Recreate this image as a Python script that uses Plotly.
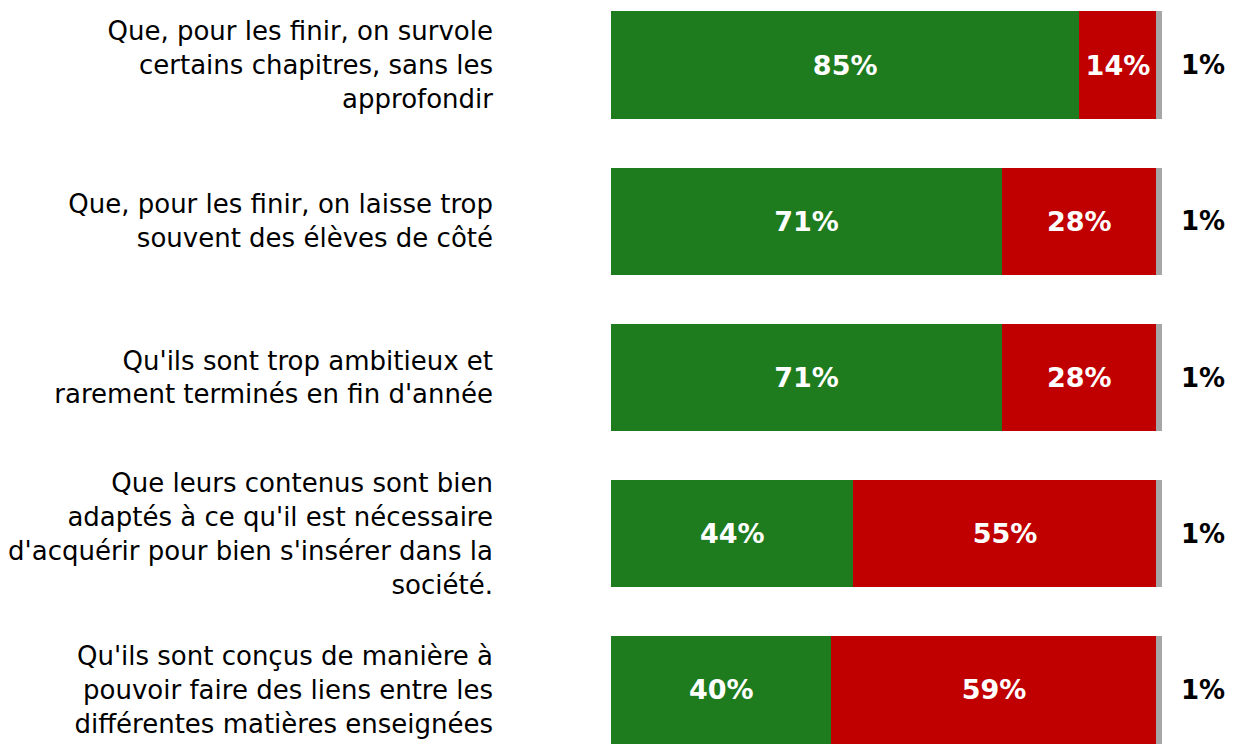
import plotly.graph_objects as go

# Survey statements (top to bottom)
categories = [
    "Que, pour les finir, on survole<br>certains chapitres, sans les<br>approfondir",
    "Que, pour les finir, on laisse trop<br>souvent des élèves de côté",
    "Qu'ils sont trop ambitieux et<br>rarement terminés en fin d'année",
    "Que leurs contenus sont bien<br>adaptés à ce qu'il est nécessaire<br>d'acquérir pour bien s'insérer dans la<br>société.",
    "Qu'ils sont conçus de manière à<br>pouvoir faire des liens entre les<br>différentes matières enseignées",
]
oui = [85, 71, 71, 44, 40]
non = [14, 28, 28, 55, 59]
nsp = [1, 1, 1, 1, 1]

GREEN = "#1E7B1E"
RED = "#C00000"
GREY = "#A6A6A6"

fig = go.Figure()

fig.add_trace(go.Bar(
    y=categories, x=oui, orientation="h", marker=dict(color=GREEN, line=dict(width=0)),
    text=[f"{v}%" for v in oui], textposition="inside", insidetextanchor="middle",
    textfont=dict(family="DejaVu Sans", size=27, color="white", weight="bold"),
    width=0.686,
))
fig.add_trace(go.Bar(
    y=categories, x=non, orientation="h", marker=dict(color=RED, line=dict(width=0)),
    text=[f"{v}%" for v in non], textposition="inside", insidetextanchor="middle",
    textfont=dict(family="DejaVu Sans", size=27, color="white", weight="bold"),
    width=0.686,
))
fig.add_trace(go.Bar(
    y=categories, x=nsp, orientation="h", marker=dict(color=GREY, line=dict(width=0)),
    width=0.686, textposition="none",
))

# the small "no answer" share is written outside the bar
annotations = []
for cat, a, b, c in zip(categories, oui, non, nsp):
    annotations.append(dict(
        x=a + b + c, y=cat, xref="x", yref="y", text=f"<b>{c}%</b>",
        showarrow=False, xanchor="left", xshift=17,
        font=dict(family="DejaVu Sans", size=26, color="black"),
    ))

fig.update_layout(
    barmode="stack",
    width=1226,
    height=739,
    margin=dict(l=601, r=72, t=0, b=0),
    plot_bgcolor="white",
    paper_bgcolor="white",
    showlegend=False,
    annotations=annotations,
    uniformtext=dict(mode="show", minsize=10),
)
fig.update_xaxes(range=[0, 100], visible=False)
fig.update_yaxes(
    range=[4.365, -0.365],
    showgrid=False, zeroline=False, showline=False, ticks="",
    ticklabelstandoff=117,
    tickfont=dict(family="DejaVu Sans", size=26, color="black"),
)

fig.write_html("out.html")
